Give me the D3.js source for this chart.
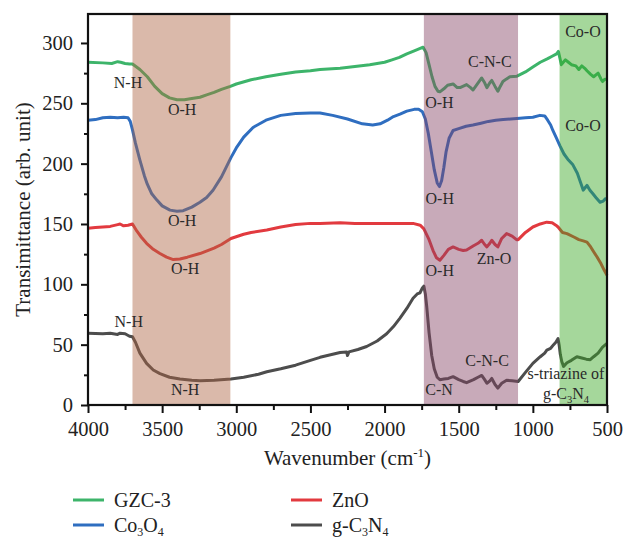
<!doctype html>
<html lang="en">
<head>
<meta charset="utf-8">
<title>FTIR spectra</title>
<style>
  body { margin: 0; background: #fff; }
  svg { display: block; }
  svg text { font-family: "Liberation Serif", "Times New Roman", "DejaVu Serif", serif; }
</style>
</head>
<body>
<div id="chart"></div>
<script src="https://d3js.org/d3.v7.min.js"></script>
<script>
// spectra: [wavenumber, transmittance] (offsets already in the values)
var gzc3 = [[4000,284],[3900,283.5],[3840,283],[3800,284.5],[3780,284],[3750,283],[3720,282.5],[3700,282.5],[3650,278],[3600,272],[3550,264],[3500,258],[3450,254.5],[3400,253],[3350,253],[3300,254],[3245,255],[3200,257],[3150,259],[3100,261.5],[3040,264],[3000,266],[2900,269.5],[2800,272],[2700,274],[2600,276],[2500,277],[2435,278],[2300,279],[2200,280.5],[2100,282],[2000,284],[1950,286],[1900,288],[1850,291],[1800,293.5],[1760,295.5],[1740,296.5],[1720,292],[1700,282],[1680,272],[1660,264],[1640,260],[1627,259.5],[1600,262],[1575,265],[1538,266],[1510,263],[1491,263],[1447,265.5],[1420,263],[1404,261],[1380,265],[1345,271],[1325,267],[1310,263],[1290,267],[1277,269],[1255,264],[1236,260],[1220,264],[1202,268],[1180,270],[1155,272],[1107,272.5],[1050,276],[1000,280],[950,284],[900,287],[870,289],[840,291],[828,293],[815,286],[808,282],[795,284],[780,286],[760,284],[740,282],[710,281],[690,278],[670,281],[650,279],[635,277],[610,274],[590,272],[560,275],[540,270],[530,268],[515,270],[500,270]];
var co3o4 = [[4000,236],[3950,236.5],[3900,238],[3850,238.5],[3800,238],[3760,238.5],[3730,238],[3715,235],[3700,228],[3680,217],[3650,203],[3620,190],[3600,183],[3570,175],[3537,170],[3500,165],[3447,161.5],[3400,160.5],[3358,161],[3300,164],[3245,168],[3200,172],[3157,178],[3100,189],[3036,205],[3000,213],[2950,222],[2887,230],[2800,236],[2700,240],[2600,241.5],[2500,242],[2435,242],[2350,240],[2250,237],[2150,233],[2080,232],[2030,233],[1980,236],[1940,239],[1896,241],[1850,243.5],[1800,245],[1770,245],[1745,243],[1725,237],[1705,225],[1685,210],[1665,195],[1645,184],[1630,181],[1615,186],[1600,197],[1585,210],[1565,221],[1538,227.5],[1500,229],[1450,231],[1404,232],[1350,233.5],[1300,235],[1250,236],[1200,236.5],[1150,237],[1107,237.5],[1050,238],[1000,238.5],[952,240],[920,239.5],[900,236],[880,232],[865,227.5],[840,221],[818,215],[790,208],[760,203],[730,199],[700,192],[680,185],[660,178],[648,180],[635,182],[615,178],[595,175],[575,172],[547,168],[525,169],[510,171],[500,171]];
var zno = [[4000,146.5],[3950,147],[3900,147.5],[3850,148],[3800,149.5],[3784,150],[3760,148.5],[3730,149],[3700,150],[3670,144],[3640,139],[3605,134],[3560,129],[3515,125.5],[3470,122.5],[3425,120.5],[3380,121],[3330,122.5],[3245,125.5],[3150,130],[3100,133],[3036,138],[2950,141.5],[2900,143],[2794,145],[2700,147.5],[2600,149.5],[2500,150.5],[2435,150.5],[2300,151],[2200,150.5],[2100,150.5],[2000,150.5],[1900,150.5],[1808,150.5],[1760,149],[1735,146],[1700,137],[1673,128],[1650,122],[1627,120],[1600,124],[1570,129],[1538,131],[1500,129],[1470,128],[1447,128.5],[1400,132],[1370,134],[1345,136.5],[1325,133],[1310,131],[1290,134],[1277,136.5],[1255,133],[1236,131],[1210,138],[1177,142],[1140,140],[1110,137],[1099,137],[1050,143],[1000,147.5],[950,150],[906,151.5],[870,151],[845,149],[830,147.5],[800,143],[770,142],[720,139],[690,137],[660,136],[635,135],[610,131],[590,127],[568,122.8],[540,117],[520,112],[500,107.5]];
var gc3n4 = [[4000,59.5],[3900,59],[3850,59.5],[3800,58.5],[3784,59.5],[3750,59],[3720,57],[3700,56.5],[3680,52],[3650,43],[3605,34.5],[3560,29],[3515,26],[3450,23],[3380,21.5],[3300,20.5],[3245,20],[3150,20.5],[3036,21.5],[2950,23],[2850,25.5],[2794,27.5],[2700,30],[2600,33],[2500,37],[2435,39.5],[2350,42],[2300,43.5],[2256,44],[2250,41],[2240,44],[2180,46],[2121,48.5],[2050,53],[1986,59],[1940,65],[1896,72],[1850,80],[1808,88.5],[1780,92],[1761,93],[1745,97],[1735,98.5],[1725,92],[1716,82],[1700,60],[1682,41],[1665,30],[1645,23],[1627,21],[1600,21.5],[1570,22],[1538,23.5],[1500,21],[1470,19.5],[1447,18.5],[1400,21],[1370,23],[1345,24.5],[1325,21],[1310,18],[1290,20],[1277,22],[1255,17],[1236,14],[1210,18],[1177,20.5],[1140,20],[1099,19.5],[1050,27],[1000,34.5],[950,40],[920,43],[906,45.5],[880,47],[860,50],[845,52],[830,55],[822,49],[815,42],[805,36],[793,32],[770,35],[740,37],[703,40],[670,39],[640,38],[613,37.5],[590,40],[560,43],[530,48],[500,51]];

var seriesNames = ["GZC-3", "ZnO", "Co3O4", "g-C3N4"];
var seriesColors = ["#3db46a", "#e23a3f", "#2f6ec0", "#4d4d4d"];

// highlighted bands [from, to]
var bands = [[3700, 3040], [1735, 1100], [820, 500]];
var bandColors = ["#ad6443", "#854364", "#38a721"];

var xTicks = [4000, 3500, 3000, 2500, 2000, 1500, 1000, 500];
var yTicks = [0, 50, 100, 150, 200, 250, 300];

// annotations: [text, wavenumber, value]
var labels = [
  ["N-H", 3730, 263], ["O-H", 3365, 240], ["O-H", 3365, 148], ["O-H", 3345, 108.5],
  ["N-H", 3725, 64.5], ["N-H", 3345, 8], ["O-H", 1630, 246], ["C-N-C", 1290, 280],
  ["Co-O", 662, 305], ["Co-O", 662, 227], ["O-H", 1628, 166.5], ["O-H", 1628, 107],
  ["Zn-O", 1262, 117], ["C-N-C", 1309, 32.5], ["C-N", 1633, 8.3], ["s-triazine of", 777, 21.5]
];

var W = 624, H = 539;
var m = { l: 88, t: 14, r: 17, b: 134 };

var svg = d3.select("#chart").append("svg").attr("width", W).attr("height", H);

var x = d3.scaleLinear().domain([4000, 500]).range([m.l, W - m.r]);
var y = d3.scaleLinear().domain([0, 324]).range([H - m.b, m.t]);

var line = d3.line().x(function (d) { return x(d[0]); }).y(function (d) { return y(d[1]); });

var data = [gzc3, zno, co3o4, gc3n4];
svg.append("g").selectAll("path").data(data).join("path")
  .attr("d", line)
  .attr("fill", "none")
  .attr("stroke", function (d, i) { return seriesColors[i]; })
  .attr("stroke-width", 3)
  .attr("stroke-linejoin", "round");

// bands are laid over the curves, semi transparent
svg.append("g").selectAll("rect").data(bands).join("rect")
  .attr("x", function (d) { return x(d[0]); })
  .attr("width", function (d) { return x(d[1]) - x(d[0]); })
  .attr("y", y(324))
  .attr("height", y(0) - y(324))
  .attr("fill", function (d, i) { return bandColors[i]; })
  .attr("fill-opacity", 0.45);

// axes
var gx = svg.append("g").attr("transform", "translate(0," + y(0) + ")")
  .call(d3.axisBottom(x).tickValues(xTicks).tickSize(8).tickPadding(8).tickFormat(d3.format("d")));
var gxm = svg.append("g").attr("transform", "translate(0," + y(0) + ")")
  .call(d3.axisBottom(x).tickValues(d3.range(3750, 500, -500)).tickSize(5).tickFormat(""));
var gy = svg.append("g").attr("transform", "translate(" + m.l + ",0)")
  .call(d3.axisLeft(y).tickValues(yTicks).tickSize(7).tickPadding(8));
var gym = svg.append("g").attr("transform", "translate(" + m.l + ",0)")
  .call(d3.axisLeft(y).tickValues(d3.range(25, 324, 50)).tickSize(4).tickFormat(""));

[gx, gxm, gy, gym].forEach(function (g) {
  g.select(".domain").remove();
  g.selectAll("line").attr("stroke", "#111").attr("stroke-width", 2);
  g.selectAll("text").attr("font-size", 20.5).attr("fill", "#222");
});

// frame
svg.append("rect")
  .attr("x", m.l).attr("y", m.t)
  .attr("width", W - m.r - m.l).attr("height", H - m.b - m.t)
  .attr("fill", "none").attr("stroke", "#111").attr("stroke-width", 2.2);

// annotations
svg.append("g").selectAll("text").data(labels).join("text")
  .attr("x", function (d) { return x(d[1]); })
  .attr("y", function (d) { return y(d[2]); })
  .attr("text-anchor", "middle")
  .attr("font-size", 16)
  .attr("fill", "#2a2a2a")
  .text(function (d) { return d[0]; });

var sub = svg.append("text")
  .attr("x", x(777)).attr("y", y(5))
  .attr("text-anchor", "middle").attr("font-size", 16).attr("fill", "#2a2a2a");
sub.append("tspan").text("g-C");
sub.append("tspan").attr("font-size", 10.5).attr("dy", 4).text("3");
sub.append("tspan").attr("dy", -4).text("N");
sub.append("tspan").attr("font-size", 10.5).attr("dy", 4).text("4");

// axis titles
svg.append("text")
  .attr("transform", "translate(30," + ((m.t + H - m.b) / 2) + ") rotate(-90)")
  .attr("text-anchor", "middle").attr("font-size", 21).attr("fill", "#222")
  .text("Transimittance (arb. unit)");

var xt = svg.append("text")
  .attr("x", (m.l + W - m.r) / 2).attr("y", 465)
  .attr("text-anchor", "middle").attr("font-size", 21).attr("fill", "#222");
xt.append("tspan").text("Wavenumber (cm");
xt.append("tspan").attr("font-size", 13).attr("dy", -8).text("-1");
xt.append("tspan").attr("dy", 8).text(")");

// legend, two columns
var legendPos = [[73, 500], [291, 500], [73, 525], [291, 525]];
var lg = svg.append("g").selectAll("g").data(seriesNames).join("g")
  .attr("transform", function (d, i) { return "translate(" + legendPos[i][0] + "," + legendPos[i][1] + ")"; });
lg.append("line")
  .attr("x1", 0).attr("x2", 31).attr("y1", 0).attr("y2", 0)
  .attr("stroke", function (d, i) { return seriesColors[i]; })
  .attr("stroke-width", 3);
lg.append("text")
  .attr("x", 41).attr("y", 6.5)
  .attr("font-size", 20).attr("fill", "#222")
  .each(function (d) {
    var t = d3.select(this);
    if (d === "GZC-3") { t.text(d); return; }
    var shifted = false;
    d.split(/(\d)/).forEach(function (p) {
      if (p === "") return;
      if (/\d/.test(p)) {
        t.append("tspan").attr("font-size", 12).attr("dy", 4).text(p);
        shifted = true;
      } else {
        t.append("tspan").attr("dy", shifted ? -4 : 0).text(p);
        shifted = false;
      }
    });
  });
</script>
</body>
</html>
